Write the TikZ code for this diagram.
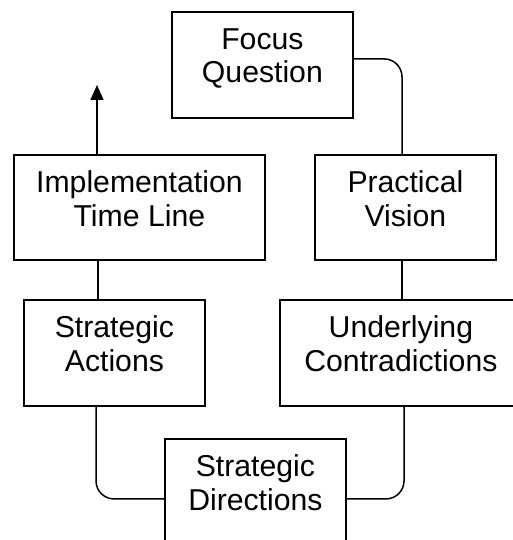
\documentclass[tikz,border=0pt]{standalone}
\usepackage{fontspec}
\setmainfont{Liberation Sans}
\usetikzlibrary{arrows.meta}
\begin{document}
\begin{tikzpicture}[x=1pt,y=-1pt,
  box/.style={draw, line width=1.8pt, anchor=north west, inner sep=0pt,
    minimum width=#1, minimum height=106pt},
  lbl/.style={anchor=base, align=center, inner sep=0pt,
    font=\fontsize{30.2}{33.5}\selectfont},
  link/.style={line width=1.5pt},
  curvelink/.style={link, rounded corners=18pt}]
  \useasboundingbox (0,0) rectangle (513,540);
  \fill[white] (0,0) rectangle (513,540);

  % boxes of the workshop cycle
  \node[box=181pt] (F)  at (171,11)  {};
  \node[box=251pt, minimum height=105pt] (I)  at (13,154) {};
  \node[box=181pt, minimum height=105pt] (PV) at (314,154) {};
  \node[box=181pt] (SA) at (23,299)  {};
  \node[box=242pt] (UC) at (279,299) {};
  \node[box=181pt] (SD) at (164,438) {};

  % captions: the node base is the last line, placed below each top edge
  \node[lbl] (tF)  at ([yshift=-72pt]F.north)  {Focus\\Question};
  \node[lbl] (tI)  at ([yshift=-72pt]I.north)  {Implementation\\Time Line};
  \node[lbl] (tPV) at ([yshift=-72pt]PV.north) {Practical\\Vision};
  \node[lbl] (tSA) at ([yshift=-72pt]SA.north) {Strategic\\Actions};
  \node[lbl] (tUC) at ([yshift=-72pt]UC.north) {Underlying\\Contradictions};
  \node[lbl] (tSD) at ([yshift=-72pt]SD.north) {Strategic\\Directions};

  % connectors
  \coordinate (tip) at (97,85);
  \draw[link, -{Triangle[width=13pt,length=15pt]}] (tip |- I.north) -- (tip);
  \draw[link] ([xshift=85pt]I.south west) -- ([xshift=75pt]SA.north west);
  \draw[curvelink] ([yshift=6pt]F.east) -| ([xshift=88pt]PV.north west);
  \draw[link] ([xshift=88pt]PV.south west) -- ([xshift=123pt]UC.north west);
  \draw[curvelink] ([xshift=73pt]SA.south west) |- ([yshift=-7pt]SD.west);
  \draw[curvelink] ([xshift=125pt]UC.south west) |- ([yshift=-7pt]SD.east);
\end{tikzpicture}
\end{document}
